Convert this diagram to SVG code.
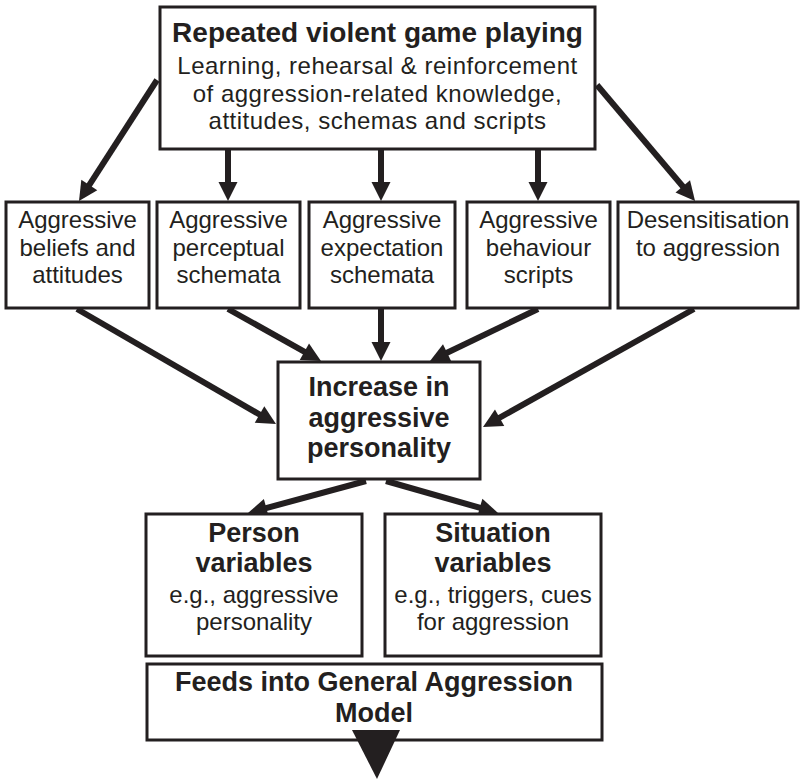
<svg xmlns="http://www.w3.org/2000/svg" width="802" height="779" viewBox="0 0 802 779">
<style>
.box{fill:#fff;stroke:#231f20;stroke-width:3}
.t{font-family:"Liberation Sans",Arial,sans-serif;fill:#231f20;text-anchor:middle;font-size:24px}
.b{font-weight:bold;font-size:27px}
.c{stroke:#231f20;stroke-width:6;fill:none;marker-end:url(#ah)}
</style>
<defs>
<marker id="ah" markerUnits="userSpaceOnUse" markerWidth="19" markerHeight="19" refX="7" refY="9.5" orient="auto" overflow="visible">
<path d="M0,0 L19,9.5 L0,19 z" fill="#231f20"/>
</marker>
</defs>
<rect width="802" height="779" fill="#fff"/>
<g id="connectors">
<line class="c" x1="157" y1="80" x2="85.5" y2="190.9"/>
<line class="c" x1="228" y1="149" x2="228" y2="189"/>
<line class="c" x1="381" y1="149" x2="381" y2="189"/>
<line class="c" x1="538" y1="149" x2="538" y2="189"/>
<line class="c" x1="597" y1="85" x2="687.3" y2="191.8"/>
<line class="c" x1="77" y1="309" x2="265.6" y2="418"/>
<line class="c" x1="228" y1="309" x2="310.5" y2="355.1"/>
<line class="c" x1="381" y1="309" x2="381" y2="349"/>
<line class="c" x1="538" y1="309" x2="440.8" y2="355.8"/>
<line class="c" x1="694" y1="309" x2="493.5" y2="421.1"/>
<line class="c" x1="366" y1="481" x2="259.6" y2="509.9"/>
<line class="c" x1="386" y1="481" x2="486.5" y2="509.7"/>
</g>
<g id="top">
<rect class="box" x="160" y="7" width="435" height="142"/>
<text class="t b" x="377.5" y="42" style="font-size:28px">Repeated violent game playing</text>
<text class="t" x="377.5" y="74" letter-spacing="0.5">Learning, rehearsal &amp; reinforcement</text>
<text class="t" x="377.5" y="102" letter-spacing="0.5">of aggression-related knowledge,</text>
<text class="t" x="377.5" y="129" letter-spacing="0.5">attitudes, schemas and scripts</text>
</g>
<g id="beliefs">
<rect class="box" x="6" y="202" width="143" height="106"/>
<text class="t" x="77.5" y="228">Aggressive</text>
<text class="t" x="77.5" y="256">beliefs and</text>
<text class="t" x="77.5" y="283">attitudes</text>
</g>
<g id="perceptual">
<rect class="box" x="157" y="202" width="143" height="106"/>
<text class="t" x="228.5" y="228">Aggressive</text>
<text class="t" x="228.5" y="256">perceptual</text>
<text class="t" x="228.5" y="283">schemata</text>
</g>
<g id="expectation">
<rect class="box" x="309" y="202" width="146" height="106"/>
<text class="t" x="382" y="228">Aggressive</text>
<text class="t" x="382" y="256">expectation</text>
<text class="t" x="382" y="283">schemata</text>
</g>
<g id="behaviour">
<rect class="box" x="467" y="202" width="143" height="106"/>
<text class="t" x="538.5" y="228">Aggressive</text>
<text class="t" x="538.5" y="256">behaviour</text>
<text class="t" x="538.5" y="283">scripts</text>
</g>
<g id="desensitisation">
<rect class="box" x="618" y="202" width="180" height="106"/>
<text class="t" x="708" y="228">Desensitisation</text>
<text class="t" x="708" y="256">to aggression</text>
</g>
<g id="increase">
<rect class="box" x="278" y="362" width="202" height="117"/>
<text class="t b" x="379" y="396">Increase in</text>
<text class="t b" x="379" y="427">aggressive</text>
<text class="t b" x="379" y="457">personality</text>
</g>
<g id="person">
<rect class="box" x="146" y="514" width="216" height="142"/>
<text class="t b" x="254" y="542">Person</text>
<text class="t b" x="254" y="572">variables</text>
<text class="t" x="254" y="603">e.g., aggressive</text>
<text class="t" x="254" y="630">personality</text>
</g>
<g id="situation">
<rect class="box" x="385" y="514" width="216" height="142"/>
<text class="t b" x="493" y="542">Situation</text>
<text class="t b" x="493" y="572">variables</text>
<text class="t" x="493" y="603">e.g., triggers, cues</text>
<text class="t" x="493" y="630">for aggression</text>
</g>
<g id="gam">
<rect class="box" x="147" y="664" width="455" height="76"/>
<text class="t b" x="374" y="691">Feeds into General Aggression</text>
<text class="t b" x="374" y="722">Model</text>
<polygon points="352,730 400,730 377,779" fill="#231f20"/>
</g>
</svg>
